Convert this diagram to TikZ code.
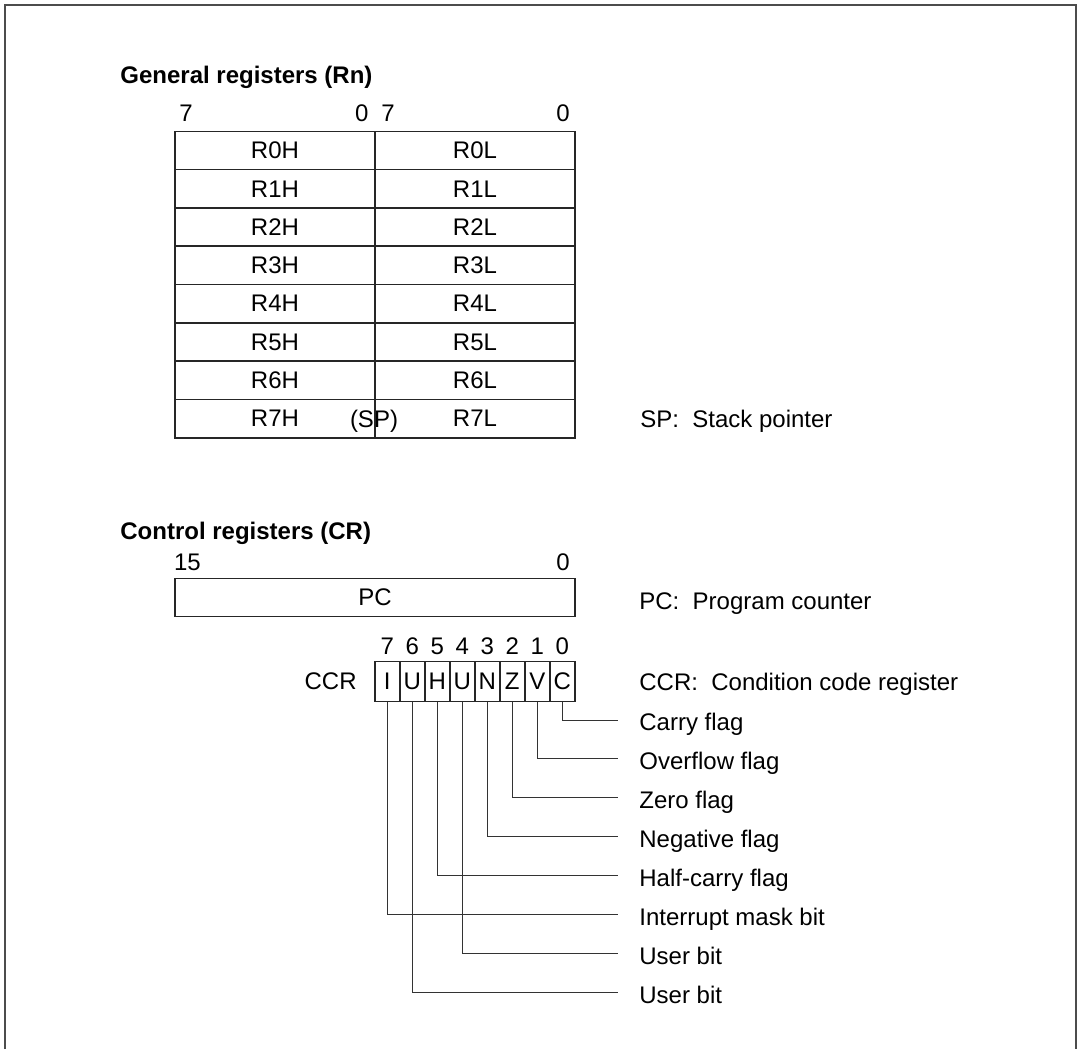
\documentclass[tikz,border=0pt]{standalone}
\usepackage{fontspec}
\setmainfont{Liberation Sans}
\begin{document}
\begin{tikzpicture}[x=0.5pt,y=-0.5pt,font=\fontsize{12}{14}\selectfont,
  reg/.style={draw=black!85,line width=0.8pt,minimum width=100pt,minimum height=19.15pt,inner sep=0pt},
  ccrbit/.style={draw=black!85,line width=0.8pt,minimum width=12.5pt,minimum height=20pt,inner sep=0pt},
  lbl/.style={anchor=base,inner sep=0pt},
  lblw/.style={anchor=base west,inner sep=0pt},
  lead/.style={line width=0.5pt,black!80}]
  \useasboundingbox (0,0) rectangle (1080,1049);
  % outer frame, open at the bottom
  \draw[line width=1.3pt,black!70] (5,1049) -- (5,5) -- (1076,5) -- (1076,1049);
  % general registers
  \node[lblw,font=\bfseries\fontsize{12}{14}\selectfont] (gtitle) at (120,83) {General registers (Rn)};
  \node[lbl] (hmsb) at (186,121.5) {7};
  \node[lbl] (hlsb) at (361.7,121.5) {0};
  \node[lbl] (lmsb) at (388,121.5) {7};
  \node[lbl] (llsb) at (563,121.5) {0};
  \foreach \i in {0,...,7} {
    \node[reg] (rh\i) at (275,{150.5+38.3*\i}) {R\i H};
    \node[reg] (rl\i) at (475,{150.5+38.3*\i}) {R\i L};
  }
  \node[lbl] (sp) at (374,427.2) {(SP)};
  \node[lblw] (spdesc) at (640,427.2) {SP:\ \ Stack pointer};
  % control registers
  \node[lblw,font=\bfseries\fontsize{12}{14}\selectfont] (ctitle) at (120,539) {Control registers (CR)};
  \node[lbl] (pcmsb) at (187.5,570) {15};
  \node[lbl] (pclsb) at (563,570) {0};
  \node[reg,minimum width=200pt] (pc) at (375,597.5) {PC};
  \node[lblw] (pcdesc) at (639,609) {PC:\ \ Program counter};
  \foreach \k/\t in {0/C,1/V,2/Z,3/N,4/U,5/H,6/U,7/I} {
    \node[ccrbit] (b\k) at ({562.3-25*\k},681.5) {\t};
    \node[lbl] (n\k) at ({562.3-25*\k},654) {\k};
  }
  \node[anchor=base east,inner sep=0pt] (ccr) at (357,689.8) {CCR};
  \node[lblw] (ccrdesc) at (639,690) {CCR:\ \ Condition code register};
  % flag leaders
  \foreach \k/\r/\t in {0/0/Carry flag,1/1/Overflow flag,2/2/Zero flag,3/3/Negative flag,
      5/4/Half-carry flag,7/5/Interrupt mask bit,4/6/User bit,6/7/User bit} {
    \coordinate (e\k) at (618,{720+38.9*\r});
    \node[lblw] (f\k) at (639,{730.7+38.9*\r}) {\t};
    \draw[lead] (b\k.south) |- (e\k);
  }
\end{tikzpicture}
\end{document}
